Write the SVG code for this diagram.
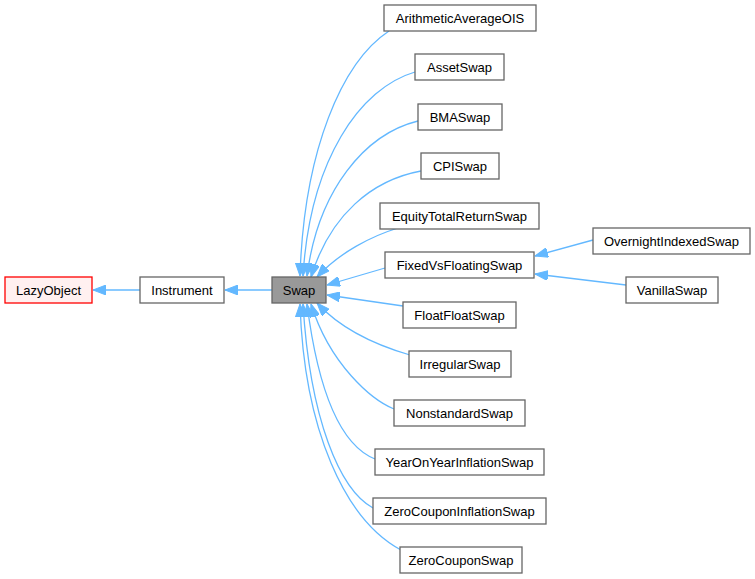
<svg xmlns="http://www.w3.org/2000/svg" width="755" height="579" viewBox="0 0 755 579">
<style>
.n rect{fill:#ffffff;stroke:#666666;stroke-width:1.3}
.n text{font-family:"Liberation Sans",Arial,sans-serif;font-size:13px;fill:#000000;text-anchor:middle}
#swap rect{fill:#999999}
#lazyobject rect{fill:#fff0f0;stroke:#ff0000}
.e path{fill:none;stroke:#63b8ff;stroke-width:1.3;marker-end:url(#ah)}
</style>
<defs>
<marker id="ah" viewBox="0 0 13 10" refX="13" refY="5" markerUnits="userSpaceOnUse" markerWidth="13" markerHeight="10" orient="auto">
<path d="M0,0 L13,5 L0,10 z" fill="#63b8ff" stroke="#63b8ff" stroke-width="1"/>
</marker>
</defs>
<rect width="755" height="579" fill="#ffffff"/>
<g id="connectors" class="e">
<path d="M140,290 L93,290"/>
<path d="M272,290 L225,290"/>
<path d="M389,31 C342,62 304,150 300,276"/>
<path d="M415,72 C360,88 310,160 303,276"/>
<path d="M418,121 C365,134 318,190 307,276"/>
<path d="M421,171 C372,180 330,215 311,277"/>
<path d="M398,228 C372,236 340,252 317,277"/>
<path d="M385,268 L327,285"/>
<path d="M403,306 L327,295"/>
<path d="M410,355 C372,344 340,328 317,303"/>
<path d="M394,409 C372,400 330,365 311,304"/>
<path d="M375,459 C340,445 318,390 307,304"/>
<path d="M373,508 C340,490 310,420 303,304"/>
<path d="M401,550 C345,520 304,430 300,304"/>
<path d="M593,240 L535,256"/>
<path d="M626,285 L535,274"/>
</g>
<g id="lazyobject" class="n"><rect x="5" y="277" width="87" height="26"/><text x="48.5" y="294.5">LazyObject</text></g>
<g id="instrument" class="n"><rect x="140" y="277" width="84" height="26"/><text x="182" y="294.5">Instrument</text></g>
<g id="swap" class="n"><rect x="272" y="277" width="54" height="26"/><text x="299" y="294.5">Swap</text></g>
<g id="arithmeticaverageois" class="n"><rect x="384" y="5" width="152" height="26"/><text x="460" y="22.5">ArithmeticAverageOIS</text></g>
<g id="assetswap" class="n"><rect x="415" y="54" width="89" height="26"/><text x="459.5" y="71.5">AssetSwap</text></g>
<g id="bmaswap" class="n"><rect x="418" y="104" width="84" height="26"/><text x="460" y="121.5">BMASwap</text></g>
<g id="cpiswap" class="n"><rect x="421" y="153" width="78" height="26"/><text x="460" y="170.5">CPISwap</text></g>
<g id="equitytotalreturnswap" class="n"><rect x="380" y="203" width="159" height="26"/><text x="459.5" y="220.5">EquityTotalReturnSwap</text></g>
<g id="fixedvsfloatingswap" class="n"><rect x="385" y="252" width="149" height="26"/><text x="459.5" y="269.5">FixedVsFloatingSwap</text></g>
<g id="floatfloatswap" class="n"><rect x="403" y="302" width="113" height="26"/><text x="459.5" y="319.5">FloatFloatSwap</text></g>
<g id="irregularswap" class="n"><rect x="409" y="351" width="102" height="26"/><text x="460" y="368.5">IrregularSwap</text></g>
<g id="nonstandardswap" class="n"><rect x="394" y="400" width="131" height="26"/><text x="459.5" y="417.5">NonstandardSwap</text></g>
<g id="yearonyearinflationswap" class="n"><rect x="375" y="449" width="169" height="26"/><text x="459.5" y="466.5">YearOnYearInflationSwap</text></g>
<g id="zerocouponinflationswap" class="n"><rect x="373" y="498" width="173" height="26"/><text x="459.5" y="515.5">ZeroCouponInflationSwap</text></g>
<g id="zerocouponswap" class="n"><rect x="400" y="547" width="122" height="26"/><text x="461" y="564.5">ZeroCouponSwap</text></g>
<g id="overnightindexedswap" class="n"><rect x="593" y="228" width="157" height="26"/><text x="671.5" y="245.5">OvernightIndexedSwap</text></g>
<g id="vanillaswap" class="n"><rect x="626" y="277" width="92" height="26"/><text x="672" y="294.5">VanillaSwap</text></g>
</svg>
